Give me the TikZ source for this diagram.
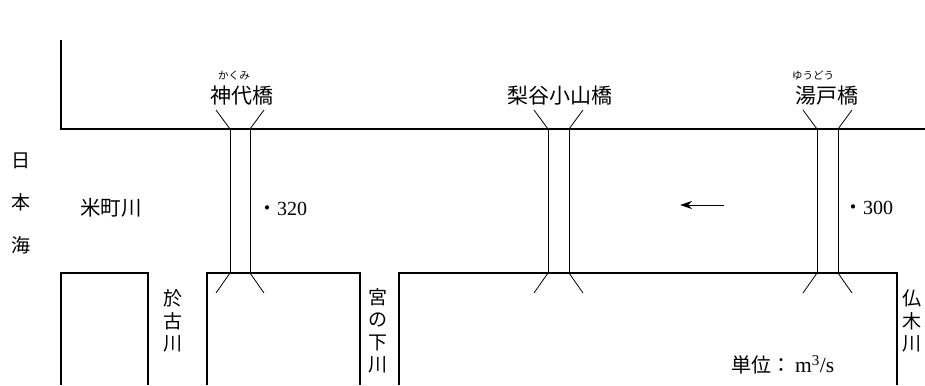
\documentclass[tikz,border=0pt]{standalone}
\usepackage{fontspec}
\setmainfont{Liberation Serif}
\newfontfamily\jpfont{Noto Sans CJK JP}
\usetikzlibrary{arrows.meta}

\begin{document}
\begin{tikzpicture}[x=1pt,y=-1pt,
  bank/.style={line width=2pt},
  pier/.style={line width=0.8pt},
  jname/.style={font=\jpfont\fontsize{21}{24}\selectfont, inner sep=0pt},
  ruby/.style={font=\jpfont\fontsize{10.5}{11}\selectfont, inner sep=0pt},
  vname/.style={font=\jpfont\fontsize{19}{22.5}\selectfont, inner sep=0pt, align=center},
  num/.style={font=\fontsize{20}{22}\selectfont, inner sep=0pt}]
\useasboundingbox (0,0) rectangle (925,385);

% river banks
\draw[bank] (61,40) -- (61,129) -- (925,129);
\draw[bank] (61,385) -- (61,273) -- (148,273) -- (148,385);
\draw[bank] (207,385) -- (207,273) -- (360,273) -- (360,385);
\draw[bank] (399,385) -- (399,273) -- (897,273) -- (897,385);

% kakumi bridge
\coordinate (kat1) at (230,129);
\coordinate (kat2) at (250,129);
\coordinate (kab1) at (230,273);
\coordinate (kab2) at (250,273);
\draw[pier](kat1) -- (kab1);
\draw[pier](kat2) -- (kab2);
\draw[pier](kat1) -- ++(-14,-19);
\draw[pier](kat2) -- ++(14,-19);
\draw[pier](kab1) -- ++(-14,20);
\draw[pier](kab2) -- ++(14,20);

% nashitani koyama bridge
\coordinate (nat1) at (548,129);
\coordinate (nat2) at (569,129);
\coordinate (nab1) at (548,273);
\coordinate (nab2) at (569,273);
\draw[pier](nat1) -- (nab1);
\draw[pier](nat2) -- (nab2);
\draw[pier](nat1) -- ++(-14,-19);
\draw[pier](nat2) -- ++(14,-19);
\draw[pier](nab1) -- ++(-14,20);
\draw[pier](nab2) -- ++(14,20);

% yudo bridge
\coordinate (yut1) at (817,129);
\coordinate (yut2) at (838,129);
\coordinate (yub1) at (817,273);
\coordinate (yub2) at (838,273);
\draw[pier](yut1) -- (yub1);
\draw[pier](yut2) -- (yub2);
\draw[pier](yut1) -- ++(-14,-19);
\draw[pier](yut2) -- ++(14,-19);
\draw[pier](yub1) -- ++(-14,20);
\draw[pier](yub2) -- ++(14,20);

% bridge names
\node[jname] (kakumi) at (242,96) {神代橋};
\node[ruby] (kakumir) at (234,76) {かくみ};
\node[jname] (nashi) at (560,96) {梨谷小山橋};
\node[jname] (yudo) at (827,96) {湯戸橋};
\node[ruby] (yudor) at (813,76) {ゆうどう};

% rivers and sea
\node[vname] (sea) at (21,203) {日\\[20pt]本\\[20pt]海};
\node[jname, font=\jpfont\fontsize{20.5}{24}\selectfont] (yonemachi) at (111,208) {米町川};
\node[vname] (oko) at (173,321) {於\\古\\川};
\node[vname] (miya) at (378,331) {宮\\の\\下\\川};
\node[vname] (hotoke) at (912,321) {仏\\木\\川};

% flows
\node[num, anchor=west] (q320) at (257,209) {{\jpfont ・}320};
\node[num, anchor=west] (q300) at (843,208) {{\jpfont ・}300};
\coordinate (flowa) at (724,205);
\coordinate (flowb) at (680,205);
\draw[line width=1pt, -{Stealth[length=12pt,width=8pt]}] (flowa) -- (flowb);

\node[num, anchor=west] (unit) at (731,365) {{\jpfont\fontsize{20}{22}\selectfont 単位：}\hspace{4pt}{\fontsize{21.5}{22}\selectfont m\textsuperscript{3}/s}};

\end{tikzpicture}
\end{document}
